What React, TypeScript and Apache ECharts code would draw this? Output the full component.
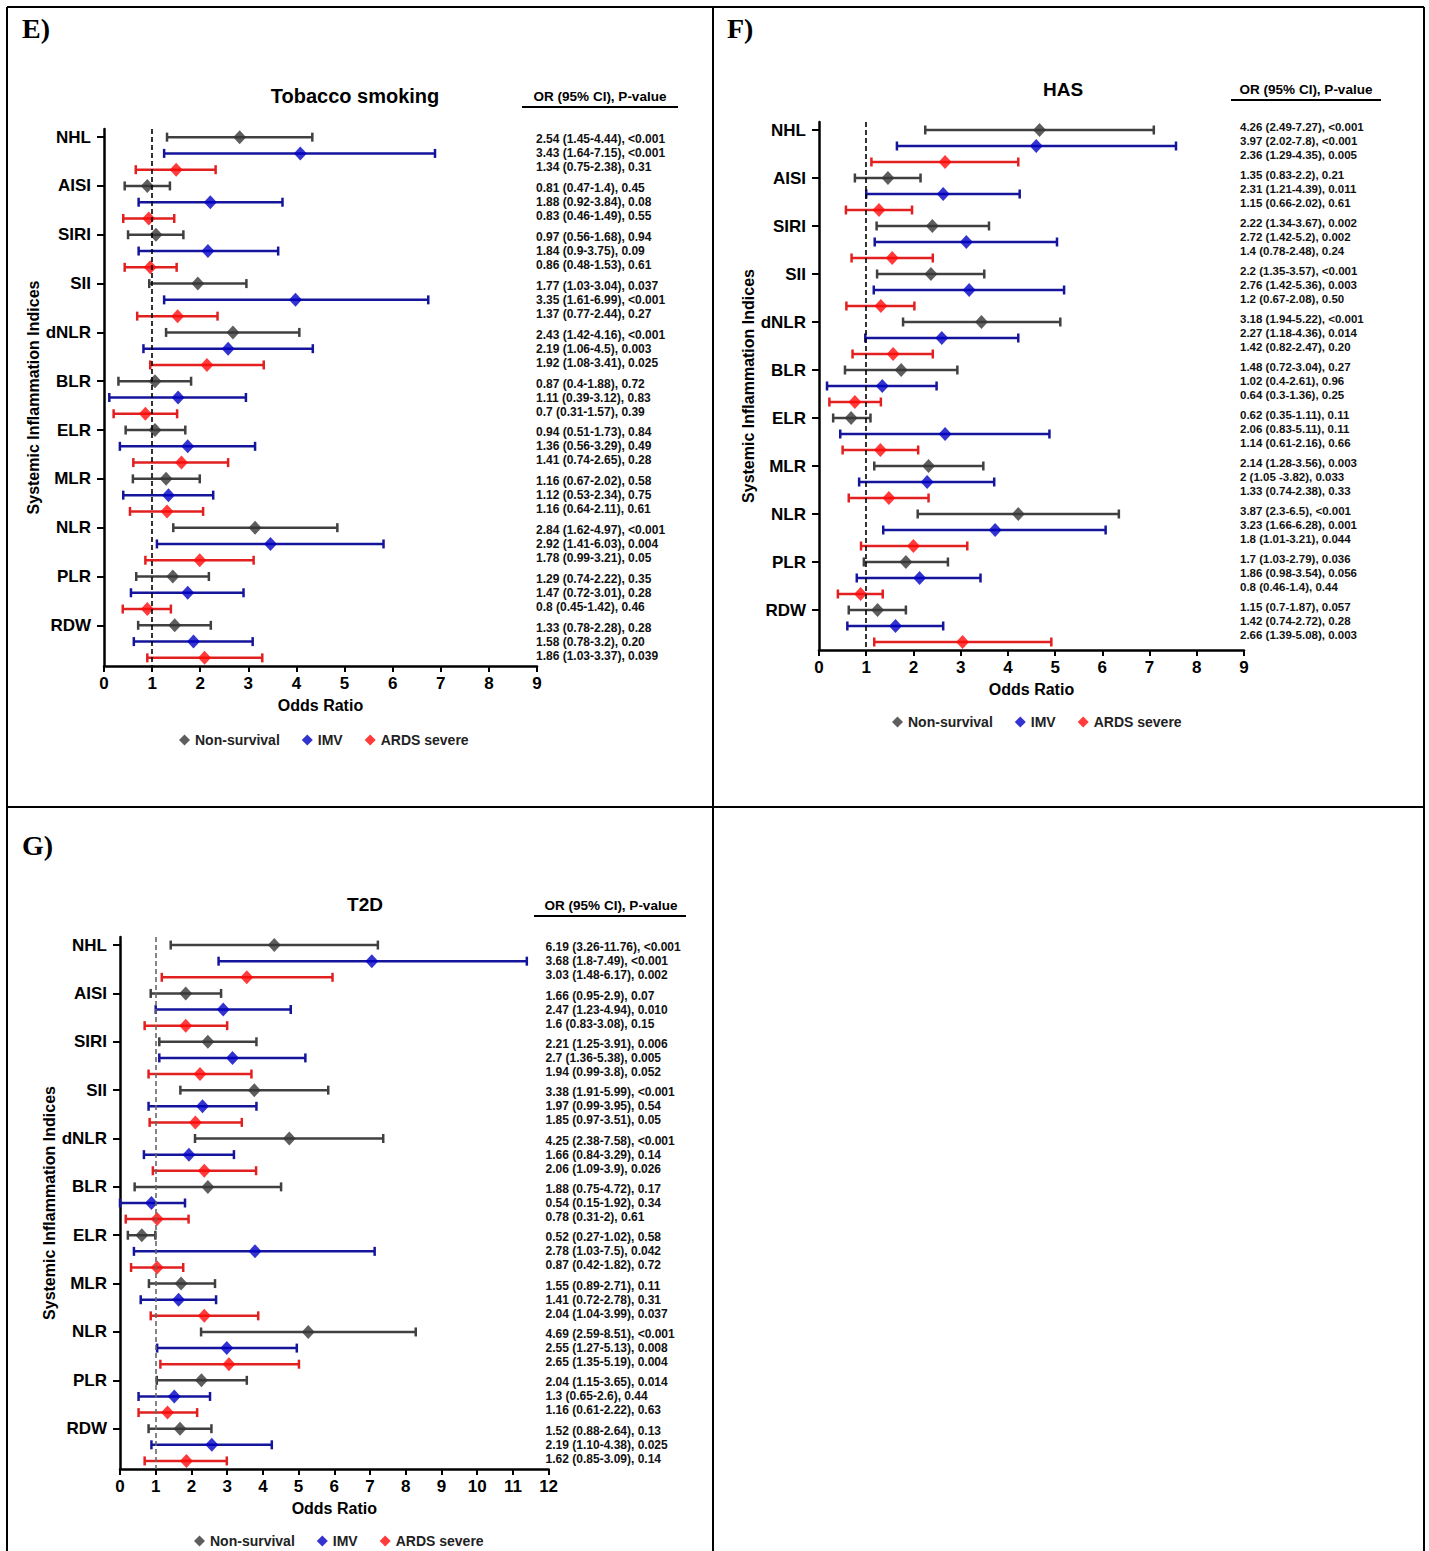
import React, { useEffect, useRef } from 'react';
import * as echarts from 'echarts';

const categories = ['NHL', 'AISI', 'SIRI', 'SII', 'dNLR', 'BLR', 'ELR', 'MLR', 'NLR', 'PLR', 'RDW'];
const seriesNames = ['Non-survival', 'IMV', 'ARDS severe'];
const diamondColors = ['#363636', '#0000c4', '#ff0a0a'];
const barColors = ['#404040', '#15159c', '#e22020'];

// [low, OR, high] as drawn
const tobaccoNonSurvival = [[1.31, 2.82, 4.33], [0.43, 0.9, 1.37], [0.5, 1.08, 1.65], [0.94, 1.95, 2.96], [1.29, 2.68, 4.06], [0.3, 1.06, 1.81], [0.45, 1.06, 1.69], [0.6, 1.29, 1.99], [1.44, 3.14, 4.85], [0.67, 1.43, 2.18], [0.71, 1.47, 2.22]];
const tobaccoIMV = [[1.25, 4.08, 6.88], [0.72, 2.21, 3.71], [0.72, 2.16, 3.62], [1.25, 3.98, 6.74], [0.82, 2.58, 4.34], [0.11, 1.54, 2.95], [0.33, 1.74, 3.14], [0.4, 1.34, 2.27], [1.1, 3.46, 5.81], [0.56, 1.74, 2.9], [0.62, 1.86, 3.09]];
const tobaccoARDS = [[0.66, 1.5, 2.32], [0.4, 0.93, 1.46], [0.43, 0.96, 1.51], [0.69, 1.53, 2.36], [0.96, 2.14, 3.32], [0.2, 0.86, 1.52], [0.61, 1.61, 2.58], [0.54, 1.31, 2.06], [0.86, 1.99, 3.11], [0.39, 0.9, 1.39], [0.9, 2.09, 3.29]];

const hasNonSurvival = [[2.25, 4.67, 7.09], [0.76, 1.46, 2.15], [1.22, 2.4, 3.6], [1.23, 2.37, 3.5], [1.78, 3.44, 5.11], [0.55, 1.74, 2.93], [0.3, 0.68, 1.09], [1.17, 2.32, 3.48], [2.09, 4.22, 6.35], [0.95, 1.84, 2.73], [0.63, 1.24, 1.84]];
const hasIMV = [[1.65, 4.6, 7.56], [1.0, 2.63, 4.25], [1.18, 3.12, 5.04], [1.16, 3.18, 5.19], [0.98, 2.6, 4.22], [0.17, 1.34, 2.49], [0.45, 2.67, 4.88], [0.85, 2.29, 3.71], [1.36, 3.73, 6.07], [0.8, 2.13, 3.42], [0.6, 1.62, 2.63]];
const hasARDS = [[1.11, 2.67, 4.22], [0.57, 1.27, 1.97], [0.69, 1.55, 2.41], [0.58, 1.31, 2.02], [0.71, 1.57, 2.41], [0.22, 0.76, 1.31], [0.5, 1.3, 2.1], [0.63, 1.48, 2.32], [0.89, 2.0, 3.14], [0.4, 0.88, 1.35], [1.17, 3.04, 4.92]];

const t2dNonSurvival = [[1.42, 4.32, 7.22], [0.86, 1.84, 2.83], [1.1, 2.46, 3.82], [1.69, 3.76, 5.83], [2.1, 4.74, 7.37], [0.41, 2.46, 4.51], [0.22, 0.61, 0.99], [0.81, 1.71, 2.66], [2.27, 5.27, 8.28], [1.03, 2.28, 3.55], [0.8, 1.68, 2.56]];
const t2dIMV = [[2.76, 7.05, 11.39], [1.0, 2.89, 4.78], [1.1, 3.15, 5.19], [0.8, 2.31, 3.82], [0.67, 1.93, 3.19], [0.0, 0.88, 1.82], [0.39, 3.78, 7.13], [0.58, 1.64, 2.69], [1.04, 2.99, 4.95], [0.52, 1.52, 2.52], [0.88, 2.57, 4.25]];
const t2dARDS = [[1.17, 3.55, 5.95], [0.69, 1.84, 3.0], [0.8, 2.24, 3.68], [0.83, 2.11, 3.41], [0.92, 2.36, 3.81], [0.16, 1.04, 1.92], [0.31, 1.04, 1.77], [0.86, 2.36, 3.87], [1.13, 3.05, 5.01], [0.52, 1.33, 2.16], [0.69, 1.86, 2.99]];

const tobaccoTextNS = ['2.54 (1.45-4.44), <0.001', '0.81 (0.47-1.4), 0.45', '0.97 (0.56-1.68), 0.94', '1.77 (1.03-3.04), 0.037', '2.43 (1.42-4.16), <0.001', '0.87 (0.4-1.88), 0.72', '0.94 (0.51-1.73), 0.84', '1.16 (0.67-2.02), 0.58', '2.84 (1.62-4.97), <0.001', '1.29 (0.74-2.22), 0.35', '1.33 (0.78-2.28), 0.28'];
const tobaccoTextIMV = ['3.43 (1.64-7.15), <0.001', '1.88 (0.92-3.84), 0.08', '1.84 (0.9-3.75), 0.09', '3.35 (1.61-6.99), <0.001', '2.19 (1.06-4.5), 0.003', '1.11 (0.39-3.12), 0.83', '1.36 (0.56-3.29), 0.49', '1.12 (0.53-2.34), 0.75', '2.92 (1.41-6.03), 0.004', '1.47 (0.72-3.01), 0.28', '1.58 (0.78-3.2), 0.20'];
const tobaccoTextARDS = ['1.34 (0.75-2.38), 0.31', '0.83 (0.46-1.49), 0.55', '0.86 (0.48-1.53), 0.61', '1.37 (0.77-2.44), 0.27', '1.92 (1.08-3.41), 0.025', '0.7 (0.31-1.57), 0.39', '1.41 (0.74-2.65), 0.28', '1.16 (0.64-2.11), 0.61', '1.78 (0.99-3.21), 0.05', '0.8 (0.45-1.42), 0.46', '1.86 (1.03-3.37), 0.039'];

const hasTextNS = ['4.26 (2.49-7.27), <0.001', '1.35 (0.83-2.2), 0.21', '2.22 (1.34-3.67), 0.002', '2.2 (1.35-3.57), <0.001', '3.18 (1.94-5.22), <0.001', '1.48 (0.72-3.04), 0.27', '0.62 (0.35-1.11), 0.11', '2.14 (1.28-3.56), 0.003', '3.87 (2.3-6.5), <0.001', '1.7 (1.03-2.79), 0.036', '1.15 (0.7-1.87), 0.057'];
const hasTextIMV = ['3.97 (2.02-7.8), <0.001', '2.31 (1.21-4.39), 0.011', '2.72 (1.42-5.2), 0.002', '2.76 (1.42-5.36), 0.003', '2.27 (1.18-4.36), 0.014', '1.02 (0.4-2.61), 0.96', '2.06 (0.83-5.11), 0.11', '2 (1.05 -3.82), 0.033', '3.23 (1.66-6.28), 0.001', '1.86 (0.98-3.54), 0.056', '1.42 (0.74-2.72), 0.28'];
const hasTextARDS = ['2.36 (1.29-4.35), 0.005', '1.15 (0.66-2.02), 0.61', '1.4 (0.78-2.48), 0.24', '1.2 (0.67-2.08), 0.50', '1.42 (0.82-2.47), 0.20', '0.64 (0.3-1.36), 0.25', '1.14 (0.61-2.16), 0.66', '1.33 (0.74-2.38), 0.33', '1.8 (1.01-3.21), 0.044', '0.8 (0.46-1.4), 0.44', '2.66 (1.39-5.08), 0.003'];

const t2dTextNS = ['6.19 (3.26-11.76), <0.001', '1.66 (0.95-2.9), 0.07', '2.21 (1.25-3.91), 0.006', '3.38 (1.91-5.99), <0.001', '4.25 (2.38-7.58), <0.001', '1.88 (0.75-4.72), 0.17', '0.52 (0.27-1.02), 0.58', '1.55 (0.89-2.71), 0.11', '4.69 (2.59-8.51), <0.001', '2.04 (1.15-3.65), 0.014', '1.52 (0.88-2.64), 0.13'];
const t2dTextIMV = ['3.68 (1.8-7.49), <0.001', '2.47 (1.23-4.94), 0.010', '2.7 (1.36-5.38), 0.005', '1.97 (0.99-3.95), 0.54', '1.66 (0.84-3.29), 0.14', '0.54 (0.15-1.92), 0.34', '2.78 (1.03-7.5), 0.042', '1.41 (0.72-2.78), 0.31', '2.55 (1.27-5.13), 0.008', '1.3 (0.65-2.6), 0.44', '2.19 (1.10-4.38), 0.025'];
const t2dTextARDS = ['3.03 (1.48-6.17), 0.002', '1.6 (0.83-3.08), 0.15', '1.94 (0.99-3.8), 0.052', '1.85 (0.97-3.51), 0.05', '2.06 (1.09-3.9), 0.026', '0.78 (0.31-2), 0.61', '0.87 (0.42-1.82), 0.72', '2.04 (1.04-3.99), 0.037', '2.65 (1.35-5.19), 0.004', '1.16 (0.61-2.22), 0.63', '1.62 (0.85-3.09), 0.14'];

const FONT = '"Liberation Sans", Arial, Helvetica, sans-serif';

const panels = [
  {
    label: 'E)', labelPos: [22, 28], title: 'Tobacco smoking', titlePos: [355, 96], titleSize: 20,
    headerPos: [600, 96], underline: [522, 678, 107],
    grid: { left: 104, top: 129, width: 433, height: 537 }, xMax: 9,
    data: [tobaccoNonSurvival, tobaccoIMV, tobaccoARDS], texts: [tobaccoTextNS, tobaccoTextIMV, tobaccoTextARDS],
    textMargin: -1, textSize: 12, textRow: 1, textVAlign: 'middle', dash: '#000', legend: [174, 728],
  },
  {
    label: 'F)', labelPos: [727, 28], title: 'HAS', titlePos: [1063, 89], titleSize: 19,
    headerPos: [1306, 89], underline: [1231, 1381, 100],
    grid: { left: 819, top: 122, width: 425, height: 528 }, xMax: 9,
    data: [hasNonSurvival, hasIMV, hasARDS], texts: [hasTextNS, hasTextIMV, hasTextARDS],
    textMargin: -4, textSize: 11.5, textRow: 2, textVAlign: 'bottom', dash: '#000', legend: [887, 710],
  },
  {
    label: 'G)', labelPos: [22, 845], title: 'T2D', titlePos: [365, 904], titleSize: 19,
    headerPos: [611, 905], underline: [534, 686, 916],
    grid: { left: 120, top: 937, width: 428.6, height: 532 }, xMax: 12,
    data: [t2dNonSurvival, t2dIMV, t2dARDS], texts: [t2dTextNS, t2dTextIMV, t2dTextARDS],
    textMargin: -3, textSize: 12, textRow: 1, textVAlign: 'middle', dash: '#666', legend: [189, 1529],
  },
];

const rows: string[] = [];
categories.forEach((c) => seriesNames.forEach((_, s) => rows.push(c + '|' + s)));

function buildOption() {
  const grids: any[] = [];
  const xAxes: any[] = [];
  const yAxes: any[] = [];
  const series: any[] = [];
  const legends: any[] = [];
  const graphics: any[] = [];

  panels.forEach((p, pi) => {
    grids.push({ ...p.grid, containLabel: false });
    xAxes.push({
      type: 'value', gridIndex: pi, min: 0, max: p.xMax, interval: 1,
      name: 'Odds Ratio', nameLocation: 'middle', nameGap: 31,
      nameTextStyle: { fontFamily: FONT, fontWeight: 'bold', fontSize: 16, color: '#000' },
      axisLine: { show: true, lineStyle: { color: '#000', width: 2.5 } },
      axisTick: { show: true, length: 6, lineStyle: { color: '#000', width: 2 } },
      axisLabel: { fontFamily: FONT, fontWeight: 'bold', fontSize: 17, color: '#000', margin: 9 },
      splitLine: { show: false },
    });
    yAxes.push({
      type: 'category', gridIndex: pi, data: rows, inverse: true,
      name: 'Systemic Inflammation Indices', nameLocation: 'middle', nameGap: 63, nameRotate: 90,
      nameTextStyle: { fontFamily: FONT, fontWeight: 'bold', fontSize: 16, color: '#000' },
      axisLine: { show: true, lineStyle: { color: '#000', width: 2.5 } },
      axisTick: { show: true, alignWithLabel: true, length: 7, interval: (i: number) => i % 3 === 0, lineStyle: { color: '#000', width: 2 } },
      axisLabel: {
        interval: (i: number) => i % 3 === 0,
        formatter: (v: string) => v.split('|')[0],
        fontFamily: FONT, fontWeight: 'bold', fontSize: 17, color: '#000', margin: 13,
        showMinLabel: true, showMaxLabel: true,
      },
      splitLine: { show: false },
    });
    yAxes.push({
      type: 'category', gridIndex: pi, data: rows, inverse: true, position: 'right',
      axisLine: { show: false }, axisTick: { show: false }, splitLine: { show: false },
      axisLabel: {
        interval: (i: number) => i % 3 === p.textRow,
        formatter: (_v: string, i: number) => {
          const g = Math.floor(i / 3);
          return p.texts.map((t) => t[g]).join('\n');
        },
        showMinLabel: true, showMaxLabel: true, hideOverlap: false,
        align: 'left', verticalAlign: p.textVAlign,
        fontFamily: FONT, fontWeight: 'bold', fontSize: p.textSize, lineHeight: 14,
        color: '#111', margin: p.textMargin,
      },
    });
    const yIdx = pi * 2;
    p.data.forEach((arr, s) => {
      series.push({
        type: 'custom', xAxisIndex: pi, yAxisIndex: yIdx, z: 2,
        encode: { x: [0, 1], y: 2 },
        data: arr.map((d, g) => [d[0], d[2], g * 3 + s]),
        renderItem: (_params: any, api: any) => {
          const row = api.value(2);
          const a = api.coord([api.value(0), row]);
          const b = api.coord([api.value(1), row]);
          const h = 4.5;
          const style = { stroke: barColors[s], lineWidth: 2.5 };
          return {
            type: 'group',
            children: [
              { type: 'line', shape: { x1: a[0], y1: a[1], x2: b[0], y2: b[1] }, style },
              { type: 'line', shape: { x1: a[0], y1: a[1] - h, x2: a[0], y2: a[1] + h }, style },
              { type: 'line', shape: { x1: b[0], y1: b[1] - h, x2: b[0], y2: b[1] + h }, style },
            ],
          };
        },
      });
      const sc: any = {
        type: 'scatter', name: seriesNames[s], xAxisIndex: pi, yAxisIndex: yIdx, z: 3,
        symbol: 'diamond', symbolSize: [13, 14],
        itemStyle: { color: diamondColors[s] },
        data: arr.map((d, g) => [d[1], g * 3 + s]),
      };
      if (s === 0) {
        sc.markLine = {
          silent: true, symbol: 'none', label: { show: false },
          lineStyle: { type: [5, 3], color: p.dash, width: 1.6 },
          data: [{ xAxis: 1 }],
        };
      }
      series.push(sc);
    });
    legends.push({
      left: p.legend[0], top: p.legend[1], orient: 'horizontal', selectedMode: false,
      itemWidth: 11, itemHeight: 11, itemGap: 22,
      textStyle: { fontFamily: FONT, fontWeight: 'bold', fontSize: 14, color: '#222' },
      data: seriesNames.map((n) => ({ name: n, icon: 'diamond' })),
    });
    graphics.push({
      type: 'text', x: p.labelPos[0], y: p.labelPos[1],
      style: { text: p.label, fill: '#000', font: 'bold 28px "Liberation Serif", "Times New Roman", serif', textAlign: 'left', textVerticalAlign: 'middle', align: 'left', verticalAlign: 'middle' },
    });
    graphics.push({
      type: 'text', x: p.titlePos[0], y: p.titlePos[1],
      style: { text: p.title, fill: '#000', font: `bold ${p.titleSize}px ${FONT}`, textAlign: 'center', textVerticalAlign: 'middle', align: 'center', verticalAlign: 'middle' },
    });
    graphics.push({
      type: 'text', x: p.headerPos[0], y: p.headerPos[1],
      style: { text: 'OR (95% CI), P-value', fill: '#000', font: `bold 13.5px ${FONT}`, textAlign: 'center', textVerticalAlign: 'middle', align: 'center', verticalAlign: 'middle' },
    });
    graphics.push({
      type: 'line', shape: { x1: p.underline[0], y1: p.underline[2], x2: p.underline[1], y2: p.underline[2] },
      style: { stroke: '#000', lineWidth: 2 },
    });
  });

  // page frame lines
  const frame = [
    [7, 7, 1424, 7], [7, 7, 7, 1551], [1424, 7, 1424, 1551], [713, 7, 713, 1551], [7, 807, 1424, 807],
  ];
  frame.forEach((f) => graphics.push({
    type: 'line', shape: { x1: f[0], y1: f[1], x2: f[2], y2: f[3] }, style: { stroke: '#000', lineWidth: 2 },
  }));

  return {
    animation: false,
    backgroundColor: '#fff',
    grid: grids,
    xAxis: xAxes,
    yAxis: yAxes,
    legend: legends,
    series,
    graphic: graphics,
  };
}

export default function App() {
  const ref = useRef<HTMLDivElement>(null);
  useEffect(() => {
    if (!ref.current) return;
    const chart = echarts.init(ref.current, undefined, { renderer: 'svg' });
    chart.setOption(buildOption() as any);
    return () => chart.dispose();
  }, []);
  return (
    <div
      ref={ref}
      style={{ position: 'absolute', left: 0, top: 0, width: 1429, height: 1551, background: '#fff' }}
    />
  );
}
